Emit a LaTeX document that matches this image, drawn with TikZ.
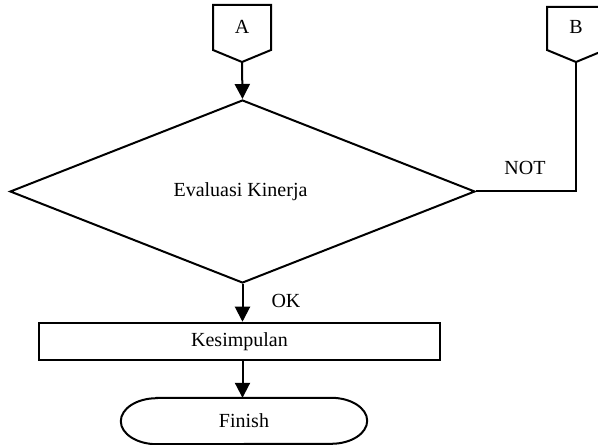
\documentclass[tikz,border=0pt]{standalone}
\usepackage{fontspec}
\setmainfont{Liberation Serif}
\usetikzlibrary{arrows.meta,shapes.geometric}
\begin{document}
\begin{tikzpicture}[x=1pt,y=1pt,
  line/.style={line width=2pt},
  arr/.style={line width=2pt,-{Triangle[length=15pt,width=15pt]}},
  lbl/.style={font=\fontsize{20}{23}\selectfont, inner sep=0pt}]
\useasboundingbox (0,0) rectangle (598,445);
\clip (0,0) rectangle (598,445);
% off-page connector A
\coordinate (a1) at (213,440);
\coordinate (a2) at (271,440);
\coordinate (a3) at (271,395);
\coordinate (atip) at (242,383);
\coordinate (a5) at (213,395);
\draw[line] (a1) -- (a2) -- (a3) -- (atip) -- (a5) -- cycle;
\node[lbl] (A) at (242,418) {A};
% off-page connector B
\coordinate (b1) at (547,438);
\coordinate (b2) at (605,438);
\coordinate (b3) at (605,395);
\coordinate (btip) at (576,383);
\coordinate (b5) at (547,395);
\draw[line] (b1) -- (b2) -- (b3) -- (btip) -- (b5) -- cycle;
\node[lbl] (B) at (576,418) {B};
% decision
\node[diamond, draw, line width=2pt, minimum width=465pt, minimum height=183pt, inner sep=0pt, lbl] (dia) at (242.5,253.5) {};
\node[lbl] (evtext) at (240.5,253) {Evaluasi Kinerja};
% process
\node[draw, line width=2.5pt, minimum width=401pt, minimum height=37pt, inner sep=0pt, lbl] (kes) at (239.5,103.5) {Kesimpulan};
% terminator
\node[minimum width=246pt, minimum height=46pt, inner sep=0pt, lbl] (fin) at (244,24) {Finish};
\draw[line] ([xshift=36pt]fin.north west) -- ([xshift=-36pt]fin.north east)
  arc[start angle=90, end angle=-90, x radius=36pt, y radius=23pt]
  -- ([xshift=36pt]fin.south west)
  arc[start angle=270, end angle=90, x radius=36pt, y radius=23pt] -- cycle;
% connectors
\coordinate (bcorner) at (576,253.5);
\draw[arr] (atip) -- (dia.north);
\draw[line] (btip) -- (bcorner) -- (dia.east);
\node[lbl] (not) at (525,277) {NOT};
\draw[arr] (dia.south) -- (kes.north -| dia.south);
\node[lbl] (ok) at (286,144) {OK};
\draw[arr] (kes.south -| dia.south) -- (fin.north -| dia.south);
\end{tikzpicture}
\end{document}
